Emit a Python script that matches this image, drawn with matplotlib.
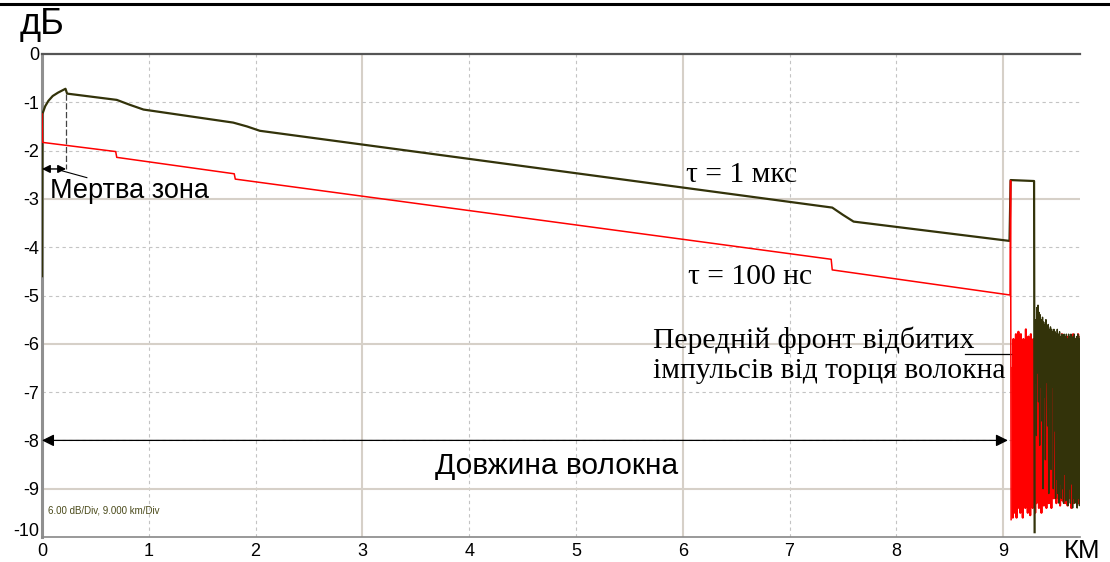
import numpy as np
import matplotlib.pyplot as plt
import matplotlib.transforms as mtransforms
from matplotlib.lines import Line2D

plt.rcParams['font.family'] = ['Liberation Sans', 'DejaVu Sans']
plt.rcParams['axes.unicode_minus'] = False

# рефлектограма, tau = 1 мкс (км, дБ)
km_1us = [0.0, 0.004, 0.03, 0.06, 0.10, 0.15, 0.22, 0.235, 0.70, 0.82, 0.95,
          1.79, 1.92, 2.04, 7.40, 7.50, 7.60, 9.06, 9.07, 9.29, 9.295]
db_1us = [-4.6, -1.24, -1.08, -0.97, -0.87, -0.80, -0.72, -0.82, -0.95, -1.05, -1.15,
          -1.42, -1.50, -1.59, -3.18, -3.33, -3.47, -3.87, -2.61, -2.63, -9.9]

# рефлектограма, tau = 100 нс
km_100ns = [0.0, 0.005, 0.69, 0.70, 1.80, 1.81, 7.39, 7.40, 9.065, 9.07, 9.075]
db_100ns = [-1.24, -1.83, -2.02, -2.14, -2.48, -2.59, -4.25, -4.47, -4.99, -2.62, -9.64]

# шум після кінця волокна
tail_100ns_start, tail_100ns_end = 9.085, 9.72
tail_100ns = [
    -6.5, -9.6, -5.9, -9.5, -6.8, -9.3, -5.8, -9.6, -6.1, -9.2,
    -5.75, -9.4, -6.3, -9.5, -5.8, -8.9, -6.0, -9.6, -5.9, -9.3,
    -7.2, -9.4, -5.7, -9.1, -6.2, -9.5, -5.85, -9.3, -6.6, -9.55,
    -5.8, -9.0, -6.0, -9.4, -5.9, -9.2, -6.4, -9.5, -5.75, -9.3,
    -6.1, -8.8, -5.8, -9.4, -6.9, -9.2, -5.9, -9.5, -6.0, -9.1,
    -5.8, -9.35, -6.3, -9.0, -5.85, -9.4, -6.0, -8.9, -6.5, -9.3,
    -5.9, -9.1, -6.2, -9.4, -5.8, -8.7, -6.6, -9.2, -5.95, -9.0,
    -6.1, -9.3, -5.85, -8.9, -6.4, -9.2, -5.9, -9.35, -6.8, -9.0,
    -5.8, -9.25, -6.2, -8.8, -5.9, -9.3, -6.0, -9.1, -7.0, -9.35,
    -5.85, -8.9, -6.3, -9.2, -5.9, -9.4, -6.1, -9.0, -5.8, -9.3,
    -6.5, -9.1, -5.9, -9.25, -6.0, -9.0, -5.8, -9.3, -6.2, -9.2,
]
tail_1us_start, tail_1us_end = 9.30, 9.72
tail_1us = [
    -6.8, -5.5, -7.9, -5.25, -6.6, -5.2, -7.2, -5.35, -8.1, -5.4,
    -6.9, -5.5, -7.6, -5.45, -9.0, -5.55, -7.1, -5.6, -8.4, -5.5,
    -6.8, -5.65, -7.7, -5.6, -9.1, -5.7, -7.3, -5.65, -8.6, -5.7,
    -6.9, -5.75, -9.0, -5.7, -7.8, -5.75, -9.2, -5.8, -8.8, -5.7,
    -9.1, -5.8, -9.3, -5.75, -8.9, -5.85, -9.2, -5.8, -9.0, -5.9,
    -9.3, -5.8, -8.7, -5.85, -9.25, -5.8, -9.1, -5.9, -9.35, -5.8,
    -9.0, -5.85, -9.3, -5.8, -8.9, -5.9, -9.4, -5.85, -9.2, -5.8,
    -9.3, -5.9, -9.1, -5.85, -9.4, -5.8, -9.2, -5.9, -9.35, -5.85,
]

x_ticks = list(range(0, 10))
y_ticks = list(range(-10, 1))
fiber_end = 9.045

c_dark = '#33330a'
c_red = '#ff0000'

fig = plt.figure(figsize=(11.1, 5.62), dpi=100)
ax = fig.add_axes([42 / 1110, 25 / 562, 1038 / 1110, 483 / 562])
ax.set_xlim(0, 9.72)
ax.set_ylim(-10, 0)

# сітка: суцільні лінії кожні 3 поділки, пунктир між ними
for v in range(1, 10):
    if v % 3 == 0:
        ax.axvline(v, color='#d6d0c8', lw=1.5, zorder=0)
    else:
        ax.axvline(v, color='#c4c4c4', lw=0.8, ls=(0, (3, 3)), zorder=0)
for v in range(-9, 0):
    if v % 3 == 0:
        ax.axhline(v, color='#d6d0c8', lw=1.5, zorder=0)
    else:
        ax.axhline(v, color='#c4c4c4', lw=0.8, ls=(0, (3, 3)), zorder=0)

ax.plot(km_1us, db_1us, color=c_dark, lw=1.6, zorder=3)
ax.plot(np.linspace(tail_1us_start, tail_1us_end, len(tail_1us)), tail_1us,
        color=c_dark, lw=1.0, zorder=3)
ax.plot(km_100ns, db_100ns, color=c_red, lw=1.1, zorder=4)
ax.plot(np.linspace(tail_100ns_start, tail_100ns_end, len(tail_100ns)), tail_100ns,
        color=c_red, lw=1.5, zorder=2)

ax.set_xticks(x_ticks)
ax.set_yticks(y_ticks)
ax.tick_params(length=0, labelsize=13)
ax.tick_params(axis='x', pad=4)
ax.tick_params(axis='y', pad=2)
# підпис -10 трохи вище, щоб не налазив на 0 по осі x
lbl = ax.get_yticklabels()[0]
lbl.set_transform(lbl.get_transform() + mtransforms.ScaledTranslation(0, 8 / 100, fig.dpi_scale_trans))

for s in ax.spines.values():
    s.set_visible(False)
ax.spines['left'].set_visible(True)
ax.spines['left'].set_color('#909090')
ax.spines['left'].set_linewidth(2.2)
ax.spines['top'].set_visible(True)
ax.spines['top'].set_color('#555555')
ax.spines['top'].set_linewidth(1.6)
ax.spines['bottom'].set_visible(True)
ax.spines['bottom'].set_color('#888888')
ax.spines['bottom'].set_linewidth(1.2)

# мертва зона
ax.plot([0.225, 0.225], [-0.82, -2.38], color='#444444', lw=0.9, ls=(0, (5, 2)), zorder=5)
ax.annotate('', xy=(0.0, -2.38), xytext=(0.225, -2.38),
            arrowprops=dict(arrowstyle='<|-|>', color='black', lw=1.0,
                            mutation_scale=12, shrinkA=0, shrinkB=0))
ax.plot([0.19, 0.42], [-2.42, -2.56], color='black', lw=0.8)
ax.text(0.075, -2.83, 'Мертва зона', fontsize=19.5, va='center', ha='left')

# довжина волокна
ax.annotate('', xy=(0.0, -8.0), xytext=(fiber_end, -8.0),
            arrowprops=dict(arrowstyle='<|-|>', color='black', lw=0.9,
                            mutation_scale=18, shrinkA=0, shrinkB=0))
ax.text(4.82, -8.52, 'Довжина волокна', fontsize=21.5, ha='center', va='center')

serif = ['Liberation Serif', 'DejaVu Serif']
ax.text(6.03, -2.5, 'τ = 1 мкс', family=serif, fontsize=21.3, va='center')
ax.text(6.05, -4.62, 'τ = 100 нс', family=serif, fontsize=21.3, va='center')
ax.text(5.72, -5.93, 'Передній фронт відбитих', family=serif, fontsize=21.3, va='center')
ax.text(5.72, -6.57, 'імпульсів від торця волокна', family=serif, fontsize=21.3, va='center')
ax.plot([8.64, 9.07], [-6.21, -6.21], color='black', lw=0.9)

ax.text(0.056, -9.45, '6.00 dB/Div, 9.000 km/Div', fontsize=7, color='#4a4a1a', va='center')

fig.text(20 / 1110, 1 - 25 / 562, 'дБ', fontsize=26, va='center', ha='left')
fig.text(1064 / 1110, 1 - 551 / 562, 'КМ', fontsize=18.5, va='center', ha='left')
fig.add_artist(Line2D([0, 1], [1 - 4 / 562, 1 - 4 / 562], color='black', lw=2.2))

fig.savefig('out.png', dpi=100)
